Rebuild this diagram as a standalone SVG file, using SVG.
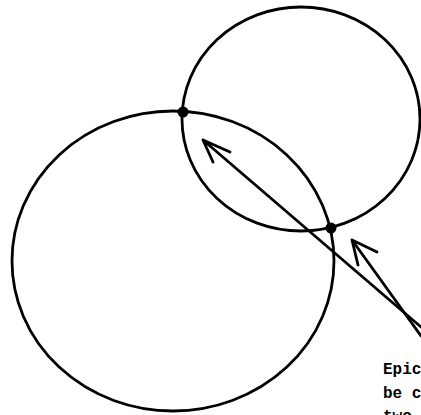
<svg xmlns="http://www.w3.org/2000/svg" width="421" height="415" viewBox="0 0 421 415">
<style>
.c{fill:none;stroke:#000;stroke-width:2.8}
.a{fill:none;stroke:#000;stroke-width:2.8;stroke-linecap:round;stroke-linejoin:round}
.d{fill:#000}
.t{font-family:"Liberation Mono",monospace;font-weight:bold;font-size:16px;fill:#000}
</style>
<rect width="421" height="415" fill="#fff"/>
<g id="bigCircle"><ellipse class="c" cx="173" cy="261" rx="161" ry="150"/></g>
<g id="smallCircle"><ellipse class="c" cx="301" cy="119" rx="119" ry="112"/></g>
<g id="nodeTop"><circle class="d" cx="183" cy="112" r="5.5"/></g>
<g id="nodeBottom"><circle class="d" cx="331" cy="228" r="5.5"/></g>
<g id="connectors">
<path class="a" d="M421,327 L203,140 M230,152 L203,140 L213,162"/>
<path class="a" d="M421,336 L352,240 M377,252 L352,240 L358,265"/>
</g>
<g id="label">
<text class="t" x="383" y="374">Epic</text>
<text class="t" x="383" y="398">be c</text>
<text class="t" x="383" y="421">two</text>
</g>
</svg>
